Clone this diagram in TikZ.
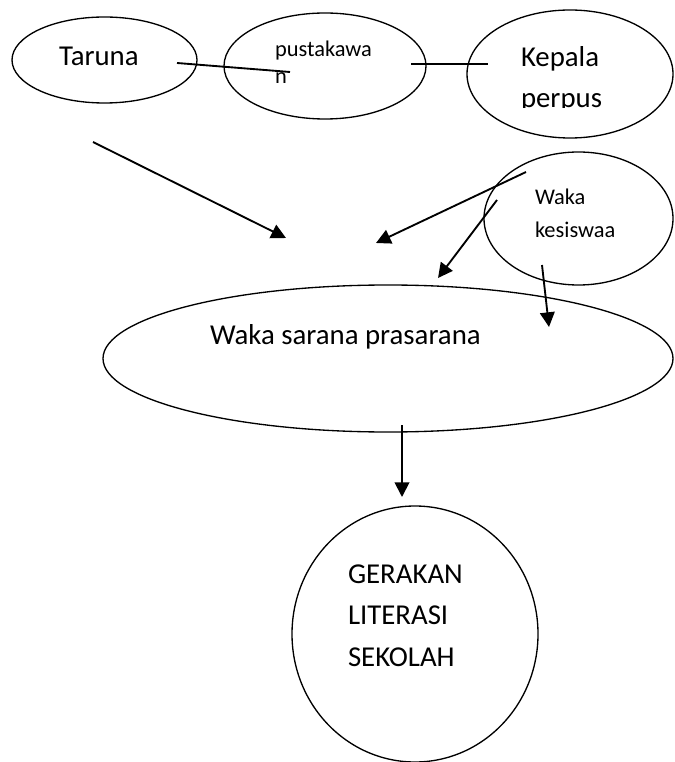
\documentclass[tikz,border=0pt]{standalone}
\usepackage{fontspec}
\setmainfont{Carlito}
\usetikzlibrary{shapes.geometric,arrows.meta}
\tikzset{
  ell/.style 2 args={draw, line width=1pt, ellipse, minimum width=#1*0.75pt, minimum height=#2*0.75pt, inner sep=0pt},
  txt/.style={anchor=base west, inner sep=0pt, outer sep=0pt},
  big/.style={font=\fontsize{21.6}{30}\selectfont},
  mid/.style={font=\fontsize{16.8}{24}\selectfont},
  small/.style={font=\fontsize{16.8}{20}\selectfont},
  conn/.style={line width=1.4pt},
  arr/.style={line width=1.4pt, -{Triangle[length=11pt,width=11pt]}}
}
\begin{document}
\begin{tikzpicture}[x=0.75pt,y=-0.75pt]
\useasboundingbox (0,0) rectangle (674,762);
% ellipses
\node[ell={185}{86}] (taruna) at (104.5,60) {};
\node[ell={202}{106}] (pustakawan) at (325,66) {};
\node[ell={206}{128}] (kepala) at (570,74) {};
\node[ell={189}{133}] (kesiswaan) at (578.5,218.5) {};
\node[ell={570}{147}] (sarana) at (388,358.5) {};
\node[ell={246}{256}] (gls) at (415,634) {};
% texts
\node[txt,big] (tTaruna) at (59,66) {Taruna};
\node[txt,small] (tPus1) at (275,57) {pustakawa};
\node[txt,small] (tPus2) at (275,84) {n};
\node[txt,big] (tKep1) at (521,67) {Kepala};
\begin{scope}
\clip (460,80) rectangle (674,108);
\node[txt,big] (tKep2) at (521,108) {perpus};
\end{scope}
\node[txt,mid] (tKes1) at (535,205) {Waka};
\node[txt,mid] (tKes2) at (535,238) {kesiswaa};
\node[txt,big] (tSarana) at (210,344) {Waka sarana prasarana};
\node[txt,big] (tG1) at (348,583) {GERAKAN};
\node[txt,big] (tG2) at (348,624) {LITERASI};
\node[txt,big] (tG3) at (348,666) {SEKOLAH};
% connector end points
\coordinate (l1a) at (177,63);
\coordinate (l1b) at (290,72);
\coordinate (l2a) at (411,64);
\coordinate (l2b) at (488,64);
\coordinate (a1s) at (93,142);
\coordinate (a1e) at (286,238);
\coordinate (a2s) at (526,172);
\coordinate (a2e) at (376,243);
\coordinate (a3s) at (497,200);
\coordinate (a3e) at (438,278);
\coordinate (a4s) at (542,265);
\coordinate (a4e) at (549,327);
\coordinate (a5s) at (402,425);
\coordinate (a5e) at (402,497);
% connectors
\draw[conn] (l1a) -- (l1b);
\draw[conn] (l2a) -- (l2b);
\draw[arr] (a1s) -- (a1e);
\draw[arr] (a2s) -- (a2e);
\draw[arr] (a3s) -- (a3e);
\draw[arr] (a4s) -- (a4e);
\draw[arr] (a5s) -- (a5e);
\end{tikzpicture}
\end{document}
